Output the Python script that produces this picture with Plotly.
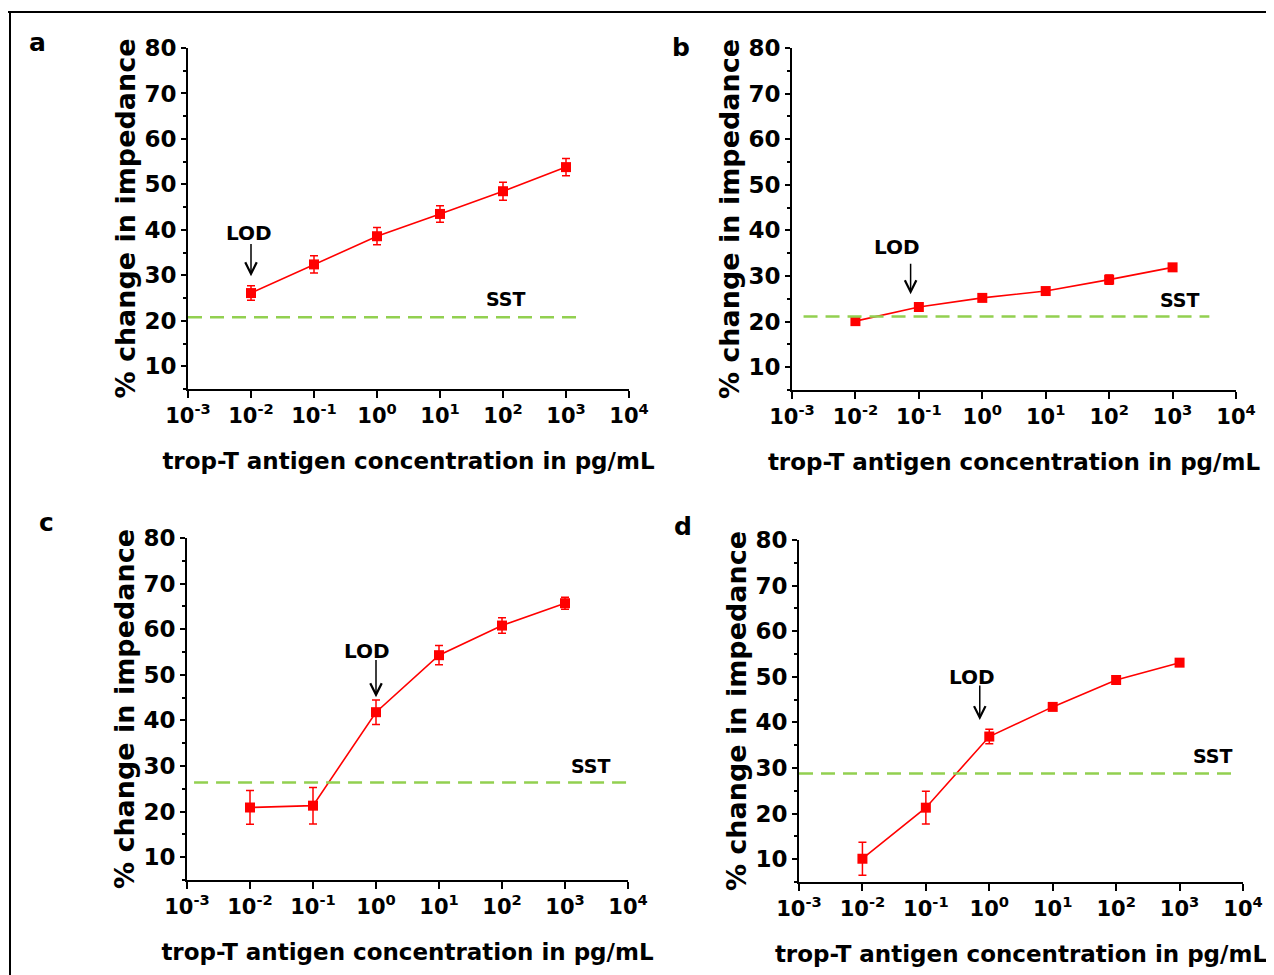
import numpy as np
import plotly.graph_objects as go

# ---------------- data ----------------
conc = [0.01, 0.1, 1, 10, 100, 1000]          # pg/mL
resp_a = [26.1, 32.4, 38.6, 43.5, 48.5, 53.8]
err_a = [1.6, 1.9, 1.9, 1.8, 2.0, 1.9]
resp_b = [20.1, 23.2, 25.2, 26.7, 29.2, 31.9]
err_b = [0.9, 0.6, 0.5, 0.5, 1.0, 0.6]
resp_c = [20.9, 21.3, 41.8, 54.3, 60.8, 65.7]
err_c = [3.7, 4.0, 2.7, 2.1, 1.7, 1.3]
resp_d = [10.1, 21.3, 36.9, 43.4, 49.3, 53.1]
err_d = [3.6, 3.6, 1.6, 0.7, 0.5, 0.5]
sst_levels = [20.8, 21.1, 26.4, 28.8]
panel_labels = ["a", "b", "c", "d"]
xtick_vals = [1e-3, 1e-2, 1e-1, 1e0, 1e1, 1e2, 1e3, 1e4]
xtick_text = ["<b>10<sup>-3</sup></b>", "<b>10<sup>-2</sup></b>", "<b>10<sup>-1</sup></b>",
              "<b>10<sup>0</sup></b>", "<b>10<sup>1</sup></b>", "<b>10<sup>2</sup></b>",
              "<b>10<sup>3</sup></b>", "<b>10<sup>4</sup></b>"]
ytick_vals = [10, 20, 30, 40, 50, 60, 70, 80]
ytick_text = ["<b>10</b>", "<b>20</b>", "<b>30</b>", "<b>40</b>",
              "<b>50</b>", "<b>60</b>", "<b>70</b>", "<b>80</b>"]
x_title = "<b>trop-T antigen concentration in pg/mL</b>"
y_title = "<b>% change in impedance</b>"
lod_text = "<b>LOD</b>"
sst_text = "<b>SST</b>"

# ---------------- layout helpers ----------------
W, H = 1274, 975
OFF = 8            # page body margin: the figure is drawn 8px right/down
FONT = "DejaVu Sans"
RED = "#ff0000"
GREEN = "#92d050"
YR = [5, 80]


def fx(px):
    return (px - OFF) / W


def fy(py):
    return 1 - (py - OFF) / H


# panel boxes in screen pixels: (left, right, top, bottom)
boxes = [(188, 629, 48, 389), (792, 1236, 48, 390),
         (187, 628, 538, 880), (799, 1243, 540, 882)]
label_pos = [(37, 42), (681, 48), (46, 522), (683, 526)]
# annotation placement per panel (log10 x, y)
lod_txt = [(-2.03, 39.4), (-1.35, 36.3), (-0.15, 55.2), (-0.27, 50.0)]
lod_arrow = [(-2.0, 37.2, 29.8), (-1.13, 33.0, 26.0), (0.0, 53.6, 45.1), (-0.15, 48.4, 40.5)]
sst_txt = [(2.05, 24.9), (3.11, 24.7), (3.41, 30.0), (3.53, 32.6)]
sst_span = [(0.0, 0.887), (0.026, 0.94), (0.016, 1.005), (0.0, 0.975)]

responses = [resp_a, resp_b, resp_c, resp_d]
errors = [err_a, err_b, err_c, err_d]

fig = go.Figure()
layout = dict(template="none", width=W, height=H, autosize=False,
              margin=dict(l=0, r=0, t=0, b=0, pad=0),
              paper_bgcolor="white", plot_bgcolor="rgba(0,0,0,0)",
              showlegend=False, annotations=[], shapes=[])

for i in range(4):
    n = "" if i == 0 else str(i + 1)
    xa, ya = "x" + n, "y" + n
    fig.add_trace(go.Scatter(
        x=conc, y=responses[i], xaxis=xa, yaxis=ya, mode="lines+markers",
        line=dict(color=RED, width=1.6),
        marker=dict(symbol="square", size=10, color=RED, line=dict(width=0)),
        error_y=dict(type="data", array=errors[i], color=RED, thickness=1.5, width=4),
    ))
    l, r, t, b = boxes[i]
    layout["xaxis" + n] = dict(
        domain=[fx(l), fx(r)], anchor=ya, type="log", range=[-3, 4], automargin=False,
        tickmode="array", tickvals=xtick_vals, ticktext=xtick_text,
        ticks="outside", ticklen=7, tickwidth=2, tickcolor="black",
        showline=True, linewidth=2, linecolor="black",
        showgrid=False, zeroline=False,
        tickfont=dict(family=FONT, size=21, color="black"),
        title=dict(text=x_title, standoff=26,
                   font=dict(family=FONT, size=23, color="black")),
    )
    layout["yaxis" + n] = dict(
        domain=[fy(b), fy(t)], anchor=xa, range=YR, automargin=False,
        tickmode="array", tickvals=ytick_vals, ticktext=ytick_text,
        ticks="outside", ticklen=5, tickwidth=2,
        tickcolor="black", showline=True, linewidth=2, linecolor="black",
        showgrid=False, zeroline=False,
        minor=dict(dtick=5, ticks="outside", ticklen=3, tickwidth=1.5,
                   tickcolor="black", showgrid=False),
        tickfont=dict(family=FONT, size=23, color="black"),
        title=dict(text=y_title, standoff=1,
                   font=dict(family=FONT, size=27, color="black")),
    )
    # SST threshold line
    x0, x1 = sst_span[i]
    yd = (sst_levels[i] - YR[0]) / (YR[1] - YR[0])
    layout["shapes"].append(dict(
        type="line", xref=xa + " domain", yref=ya + " domain",
        x0=x0, x1=x1, y0=yd, y1=yd,
        line=dict(color=GREEN, width=2.5, dash="14px,8px")))
    # SST label
    layout["annotations"].append(dict(
        x=sst_txt[i][0], y=sst_txt[i][1], xref=xa, yref=ya, text=sst_text,
        xanchor="center", yanchor="middle",
        showarrow=False, font=dict(family=FONT, size=19, color="black")))
    # LOD label
    layout["annotations"].append(dict(
        x=lod_txt[i][0], y=lod_txt[i][1], xref=xa, yref=ya, text=lod_text,
        xanchor="center", yanchor="middle",
        showarrow=False, font=dict(family=FONT, size=20, color="black")))
    # LOD arrow
    ax_, ay0, ay1 = lod_arrow[i]
    layout["annotations"].append(dict(
        x=ax_, y=ay1, ax=ax_, ay=ay0, xref=xa, yref=ya, axref=xa, ayref=ya,
        text="", showarrow=True, arrowhead=5, arrowsize=1.5, arrowwidth=1.5,
        arrowcolor="black"))
    # panel letter
    px, py = label_pos[i]
    layout["annotations"].append(dict(
        x=fx(px), y=fy(py), xref="paper", yref="paper",
        xanchor="center", yanchor="middle",
        text="<b>" + panel_labels[i] + "</b>",
        showarrow=False, font=dict(family=FONT, size=25, color="black")))

# figure frame (top and left border lines)
layout["shapes"].append(dict(type="line", xref="paper", yref="paper",
                             x0=0, x1=1, y0=fy(12), y1=fy(12),
                             line=dict(color="black", width=2)))
layout["shapes"].append(dict(type="line", xref="paper", yref="paper",
                             x0=fx(10), x1=fx(10), y0=0, y1=fy(12),
                             line=dict(color="black", width=2)))

fig.update_layout(**layout)
fig.write_html("out.html")
